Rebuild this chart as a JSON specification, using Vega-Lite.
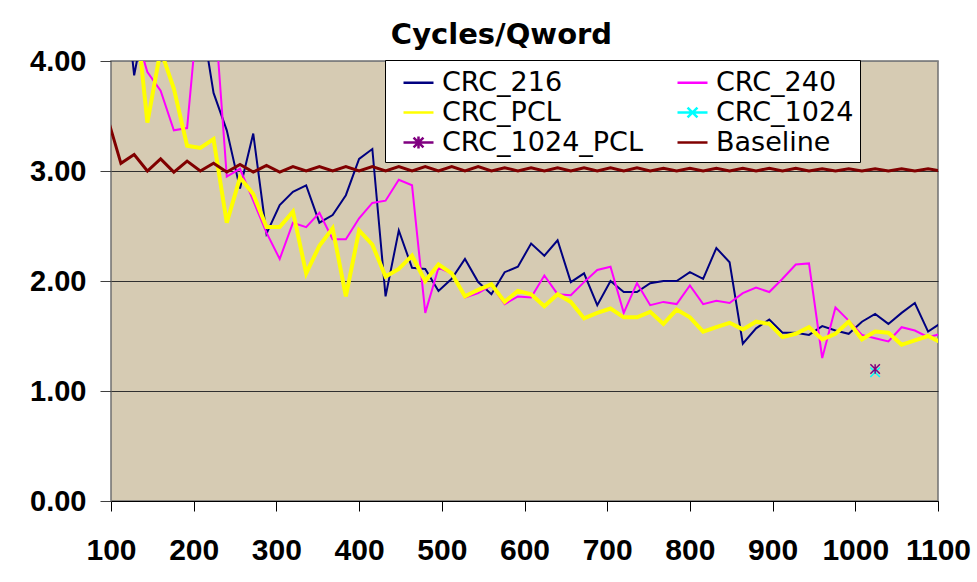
{
  "$schema": "https://vega.github.io/schema/vega-lite/v6.json",
  "width": 827,
  "height": 440,
  "autosize": {"type": "none"},
  "padding": {"left": 111, "top": 61, "right": 39, "bottom": 81},
  "background": "white",
  "title": {"text": "Cycles/Qword", "font": "DejaVu Sans", "fontSize": 29, "fontWeight": "bold", "color": "black", "anchor": "middle", "dx": -23, "dy": 40, "offset": 14, "baseline": "alphabetic"},
  "datasets": {
    "lines": [
      {"s":"CRC_216","x":96,"y":5.0},{"s":"CRC_216","x":112,"y":5.0},{"s":"CRC_216","x":128,"y":3.87},{"s":"CRC_216","x":144,"y":4.5},{"s":"CRC_216","x":160,"y":5.0},{"s":"CRC_216","x":176,"y":5.0},{"s":"CRC_216","x":192,"y":5.0},{"s":"CRC_216","x":208,"y":4.46},{"s":"CRC_216","x":224,"y":3.71},{"s":"CRC_216","x":240,"y":3.37},{"s":"CRC_216","x":256,"y":2.84},{"s":"CRC_216","x":272,"y":3.34},{"s":"CRC_216","x":288,"y":2.43},{"s":"CRC_216","x":304,"y":2.69},{"s":"CRC_216","x":320,"y":2.81},{"s":"CRC_216","x":336,"y":2.87},{"s":"CRC_216","x":352,"y":2.53},{"s":"CRC_216","x":368,"y":2.6},{"s":"CRC_216","x":384,"y":2.78},{"s":"CRC_216","x":400,"y":3.11},{"s":"CRC_216","x":416,"y":3.2},{"s":"CRC_216","x":432,"y":1.86},{"s":"CRC_216","x":448,"y":2.46},{"s":"CRC_216","x":464,"y":2.12},{"s":"CRC_216","x":480,"y":2.11},{"s":"CRC_216","x":496,"y":1.91},{"s":"CRC_216","x":512,"y":2.02},{"s":"CRC_216","x":528,"y":2.2},{"s":"CRC_216","x":544,"y":1.99},{"s":"CRC_216","x":560,"y":1.88},{"s":"CRC_216","x":576,"y":2.08},{"s":"CRC_216","x":592,"y":2.13},{"s":"CRC_216","x":608,"y":2.34},{"s":"CRC_216","x":624,"y":2.23},{"s":"CRC_216","x":640,"y":2.37},{"s":"CRC_216","x":656,"y":1.99},{"s":"CRC_216","x":672,"y":2.07},{"s":"CRC_216","x":688,"y":1.78},{"s":"CRC_216","x":704,"y":2.0},{"s":"CRC_216","x":720,"y":1.9},{"s":"CRC_216","x":736,"y":1.9},{"s":"CRC_216","x":752,"y":1.98},{"s":"CRC_216","x":768,"y":2.0},{"s":"CRC_216","x":784,"y":2.0},{"s":"CRC_216","x":800,"y":2.08},{"s":"CRC_216","x":816,"y":2.02},{"s":"CRC_216","x":832,"y":2.3},{"s":"CRC_216","x":848,"y":2.17},{"s":"CRC_216","x":864,"y":1.43},{"s":"CRC_216","x":880,"y":1.57},{"s":"CRC_216","x":896,"y":1.65},{"s":"CRC_216","x":912,"y":1.53},{"s":"CRC_216","x":928,"y":1.53},{"s":"CRC_216","x":944,"y":1.51},{"s":"CRC_216","x":960,"y":1.59},{"s":"CRC_216","x":976,"y":1.55},{"s":"CRC_216","x":992,"y":1.52},{"s":"CRC_216","x":1008,"y":1.63},{"s":"CRC_216","x":1024,"y":1.7},{"s":"CRC_216","x":1040,"y":1.61},{"s":"CRC_216","x":1056,"y":1.71},{"s":"CRC_216","x":1072,"y":1.8},{"s":"CRC_216","x":1088,"y":1.54},{"s":"CRC_216","x":1104,"y":1.62},

      {"s":"CRC_240","x":96,"y":5.0},{"s":"CRC_240","x":112,"y":4.6},{"s":"CRC_240","x":128,"y":4.3},{"s":"CRC_240","x":144,"y":3.9},{"s":"CRC_240","x":160,"y":3.73},{"s":"CRC_240","x":176,"y":3.37},{"s":"CRC_240","x":192,"y":3.39},{"s":"CRC_240","x":208,"y":4.7},{"s":"CRC_240","x":224,"y":4.6},{"s":"CRC_240","x":240,"y":2.95},{"s":"CRC_240","x":256,"y":3.02},{"s":"CRC_240","x":272,"y":2.73},{"s":"CRC_240","x":288,"y":2.44},{"s":"CRC_240","x":304,"y":2.2},{"s":"CRC_240","x":320,"y":2.53},{"s":"CRC_240","x":336,"y":2.49},{"s":"CRC_240","x":352,"y":2.62},{"s":"CRC_240","x":368,"y":2.38},{"s":"CRC_240","x":384,"y":2.38},{"s":"CRC_240","x":400,"y":2.57},{"s":"CRC_240","x":416,"y":2.71},{"s":"CRC_240","x":432,"y":2.73},{"s":"CRC_240","x":448,"y":2.92},{"s":"CRC_240","x":464,"y":2.87},{"s":"CRC_240","x":480,"y":1.71},{"s":"CRC_240","x":496,"y":2.12},{"s":"CRC_240","x":512,"y":2.07},{"s":"CRC_240","x":528,"y":1.85},{"s":"CRC_240","x":544,"y":1.89},{"s":"CRC_240","x":560,"y":1.96},{"s":"CRC_240","x":576,"y":1.79},{"s":"CRC_240","x":592,"y":1.86},{"s":"CRC_240","x":608,"y":1.85},{"s":"CRC_240","x":624,"y":2.05},{"s":"CRC_240","x":640,"y":1.88},{"s":"CRC_240","x":656,"y":1.87},{"s":"CRC_240","x":672,"y":1.99},{"s":"CRC_240","x":688,"y":2.1},{"s":"CRC_240","x":704,"y":2.13},{"s":"CRC_240","x":720,"y":1.71},{"s":"CRC_240","x":736,"y":1.98},{"s":"CRC_240","x":752,"y":1.78},{"s":"CRC_240","x":768,"y":1.81},{"s":"CRC_240","x":784,"y":1.79},{"s":"CRC_240","x":800,"y":1.96},{"s":"CRC_240","x":816,"y":1.79},{"s":"CRC_240","x":832,"y":1.82},{"s":"CRC_240","x":848,"y":1.8},{"s":"CRC_240","x":864,"y":1.89},{"s":"CRC_240","x":880,"y":1.94},{"s":"CRC_240","x":896,"y":1.9},{"s":"CRC_240","x":912,"y":2.02},{"s":"CRC_240","x":928,"y":2.15},{"s":"CRC_240","x":944,"y":2.16},{"s":"CRC_240","x":960,"y":1.3},{"s":"CRC_240","x":976,"y":1.76},{"s":"CRC_240","x":992,"y":1.64},{"s":"CRC_240","x":1008,"y":1.51},{"s":"CRC_240","x":1024,"y":1.48},{"s":"CRC_240","x":1040,"y":1.45},{"s":"CRC_240","x":1056,"y":1.58},{"s":"CRC_240","x":1072,"y":1.55},{"s":"CRC_240","x":1088,"y":1.49},{"s":"CRC_240","x":1104,"y":1.52},

      {"s":"CRC_PCL","x":96,"y":5.0},{"s":"CRC_PCL","x":112,"y":4.8},{"s":"CRC_PCL","x":128,"y":4.6},{"s":"CRC_PCL","x":144,"y":3.44},{"s":"CRC_PCL","x":160,"y":4.1},{"s":"CRC_PCL","x":176,"y":3.75},{"s":"CRC_PCL","x":192,"y":3.23},{"s":"CRC_PCL","x":208,"y":3.21},{"s":"CRC_PCL","x":224,"y":3.29},{"s":"CRC_PCL","x":240,"y":2.53},{"s":"CRC_PCL","x":256,"y":2.94},{"s":"CRC_PCL","x":272,"y":2.79},{"s":"CRC_PCL","x":288,"y":2.49},{"s":"CRC_PCL","x":304,"y":2.49},{"s":"CRC_PCL","x":320,"y":2.63},{"s":"CRC_PCL","x":336,"y":2.07},{"s":"CRC_PCL","x":352,"y":2.32},{"s":"CRC_PCL","x":368,"y":2.48},{"s":"CRC_PCL","x":384,"y":1.86},{"s":"CRC_PCL","x":400,"y":2.46},{"s":"CRC_PCL","x":416,"y":2.33},{"s":"CRC_PCL","x":432,"y":2.04},{"s":"CRC_PCL","x":448,"y":2.11},{"s":"CRC_PCL","x":464,"y":2.23},{"s":"CRC_PCL","x":480,"y":2.0},{"s":"CRC_PCL","x":496,"y":2.15},{"s":"CRC_PCL","x":512,"y":2.07},{"s":"CRC_PCL","x":528,"y":1.86},{"s":"CRC_PCL","x":544,"y":1.92},{"s":"CRC_PCL","x":560,"y":1.97},{"s":"CRC_PCL","x":576,"y":1.81},{"s":"CRC_PCL","x":592,"y":1.91},{"s":"CRC_PCL","x":608,"y":1.88},{"s":"CRC_PCL","x":624,"y":1.77},{"s":"CRC_PCL","x":640,"y":1.88},{"s":"CRC_PCL","x":656,"y":1.81},{"s":"CRC_PCL","x":672,"y":1.66},{"s":"CRC_PCL","x":688,"y":1.71},{"s":"CRC_PCL","x":704,"y":1.75},{"s":"CRC_PCL","x":720,"y":1.67},{"s":"CRC_PCL","x":736,"y":1.67},{"s":"CRC_PCL","x":752,"y":1.72},{"s":"CRC_PCL","x":768,"y":1.61},{"s":"CRC_PCL","x":784,"y":1.74},{"s":"CRC_PCL","x":800,"y":1.67},{"s":"CRC_PCL","x":816,"y":1.54},{"s":"CRC_PCL","x":832,"y":1.58},{"s":"CRC_PCL","x":848,"y":1.62},{"s":"CRC_PCL","x":864,"y":1.56},{"s":"CRC_PCL","x":880,"y":1.63},{"s":"CRC_PCL","x":896,"y":1.61},{"s":"CRC_PCL","x":912,"y":1.49},{"s":"CRC_PCL","x":928,"y":1.52},{"s":"CRC_PCL","x":944,"y":1.58},{"s":"CRC_PCL","x":960,"y":1.47},{"s":"CRC_PCL","x":976,"y":1.52},{"s":"CRC_PCL","x":992,"y":1.63},{"s":"CRC_PCL","x":1008,"y":1.47},{"s":"CRC_PCL","x":1024,"y":1.54},{"s":"CRC_PCL","x":1040,"y":1.53},{"s":"CRC_PCL","x":1056,"y":1.42},{"s":"CRC_PCL","x":1072,"y":1.46},{"s":"CRC_PCL","x":1088,"y":1.5},{"s":"CRC_PCL","x":1104,"y":1.44},

      {"s":"Baseline","x":96,"y":3.48},{"s":"Baseline","x":112,"y":3.07},{"s":"Baseline","x":128,"y":3.15},{"s":"Baseline","x":144,"y":3.0},{"s":"Baseline","x":160,"y":3.11},{"s":"Baseline","x":176,"y":2.99},{"s":"Baseline","x":192,"y":3.09},{"s":"Baseline","x":208,"y":3.0},{"s":"Baseline","x":224,"y":3.07},{"s":"Baseline","x":240,"y":2.99},{"s":"Baseline","x":256,"y":3.06},{"s":"Baseline","x":272,"y":2.99},{"s":"Baseline","x":288,"y":3.05},{"s":"Baseline","x":304,"y":2.99},{"s":"Baseline","x":320,"y":3.04},{"s":"Baseline","x":336,"y":3.0},{"s":"Baseline","x":352,"y":3.04},{"s":"Baseline","x":368,"y":3.0},{"s":"Baseline","x":384,"y":3.04},{"s":"Baseline","x":400,"y":3.0},{"s":"Baseline","x":416,"y":3.04},{"s":"Baseline","x":432,"y":3.0},{"s":"Baseline","x":448,"y":3.04},{"s":"Baseline","x":464,"y":3.0},{"s":"Baseline","x":480,"y":3.04},{"s":"Baseline","x":496,"y":3.0},{"s":"Baseline","x":512,"y":3.04},{"s":"Baseline","x":528,"y":3.0},{"s":"Baseline","x":544,"y":3.04},{"s":"Baseline","x":560,"y":3.0},{"s":"Baseline","x":576,"y":3.03},{"s":"Baseline","x":592,"y":3.0},{"s":"Baseline","x":608,"y":3.03},{"s":"Baseline","x":624,"y":3.0},{"s":"Baseline","x":640,"y":3.03},{"s":"Baseline","x":656,"y":3.0},{"s":"Baseline","x":672,"y":3.03},{"s":"Baseline","x":688,"y":3.0},{"s":"Baseline","x":704,"y":3.03},{"s":"Baseline","x":720,"y":3.0},{"s":"Baseline","x":736,"y":3.03},{"s":"Baseline","x":752,"y":3.0},{"s":"Baseline","x":768,"y":3.025},{"s":"Baseline","x":784,"y":3.0},{"s":"Baseline","x":800,"y":3.025},{"s":"Baseline","x":816,"y":3.0},{"s":"Baseline","x":832,"y":3.025},{"s":"Baseline","x":848,"y":3.0},{"s":"Baseline","x":864,"y":3.025},{"s":"Baseline","x":880,"y":3.0},{"s":"Baseline","x":896,"y":3.025},{"s":"Baseline","x":912,"y":3.0},{"s":"Baseline","x":928,"y":3.025},{"s":"Baseline","x":944,"y":3.0},{"s":"Baseline","x":960,"y":3.02},{"s":"Baseline","x":976,"y":3.0},{"s":"Baseline","x":992,"y":3.02},{"s":"Baseline","x":1008,"y":3.0},{"s":"Baseline","x":1024,"y":3.02},{"s":"Baseline","x":1040,"y":3.0},{"s":"Baseline","x":1056,"y":3.02},{"s":"Baseline","x":1072,"y":3.0},{"s":"Baseline","x":1088,"y":3.02},{"s":"Baseline","x":1104,"y":3.0}
    ],
    "pts": [
      {"s":"CRC_1024","x":1024,"y":1.17},
      {"s":"CRC_1024_PCL","x":1024,"y":1.2}
    ]
  },
  "encoding": {
    "x": {"field": "x", "type": "quantitative",
      "scale": {"domain": [100, 1100], "nice": false, "zero": false},
      "axis": {"values": [100,200,300,400,500,600,700,800,900,1000,1100], "format": "d", "title": null, "grid": false,
        "labelFont": "Liberation Sans", "labelFontSize": 30, "labelFontWeight": "bold", "labelColor": "black",
        "tickSize": 10, "tickColor": "black", "domainColor": "black", "domainWidth": 1,
        "labelPadding": 24, "labelOverlap": false, "labelFlush": false, "labelBound": false}},
    "y": {"field": "y", "type": "quantitative",
      "scale": {"domain": [0, 4], "nice": false, "zero": true},
      "axis": {"values": [0,1,2,3,4], "format": ".2f", "title": null, "domain": false,
        "labelFont": "Liberation Sans", "labelFontSize": 29, "labelFontWeight": "bold", "labelColor": "black",
        "tickSize": 11, "tickColor": "#404040", "labelPadding": 14,
        "grid": true, "gridWidth": 1,
        "gridColor": {"condition": {"test": "datum.value == 4", "value": "#808080"}, "value": "#303030"}}},
    "color": {"field": "s", "type": "nominal",
      "scale": {"domain": ["CRC_216","CRC_240","CRC_PCL","CRC_1024","CRC_1024_PCL","Baseline"],
                "range": ["#000080","#FF00FF","#FFFF00","#00FFFF","#800080","#800000"]},
      "legend": null}
  },
  "layer": [
    {
      "data": {"name": "lines"},
      "transform": [{"filter": {"field": "s", "oneOf": ["CRC_216", "CRC_240"]}}],
      "mark": {"type": "line", "strokeWidth": 2, "clip": true},
      "encoding": {
        "color": {"field": "s", "type": "nominal",
          "legend": {"title": null, "orient": "none", "legendX": 274, "legendY": -1, "columns": 2, "direction": "horizontal",
            "columnPadding": 21, "rowPadding": 0, "padding": 6, "labelLimit": 400,
            "strokeColor": "black", "fillColor": "white",
            "labelFont": "DejaVu Sans", "labelFontSize": 27, "labelColor": "black", "labelOffset": 7,
            "symbolType": "stroke", "symbolSize": 900, "symbolStrokeWidth": 2.5, "symbolOffset": 11,
            "encode": {"symbols": {"update": {"shape": {"signal": "datum.value === 'CRC_1024' ? 'M-1,0L1,0M-0.33,-0.33L0.33,0.33M-0.33,0.33L0.33,-0.33' : datum.value === 'CRC_1024_PCL' ? 'M-1,0L1,0M-0.33,-0.33L0.33,0.33M-0.33,0.33L0.33,-0.33M0,-0.4L0,0.4' : 'stroke'"}}}}}}
      }
    },
    {
      "data": {"name": "lines"},
      "transform": [{"filter": {"field": "s", "equal": "CRC_PCL"}}],
      "mark": {"type": "line", "strokeWidth": 4, "clip": true}
    },
    {
      "data": {"name": "lines"},
      "transform": [{"filter": {"field": "s", "equal": "Baseline"}}],
      "mark": {"type": "line", "strokeWidth": 3, "clip": true}
    },
    {
      "data": {"name": "pts"},
      "mark": {"type": "point", "filled": false, "strokeWidth": 1.5, "size": 90, "opacity": 1},
      "encoding": {
        "shape": {"field": "s", "type": "nominal", "legend": null,
          "scale": {"domain": ["CRC_1024", "CRC_1024_PCL"],
                    "range": ["M-1,-1L1,1M-1,1L1,-1", "M-1,-1L1,1M-1,1L1,-1M0,-1L0,1"]}}
      }
    }
  ],
  "config": {
    "view": {"fill": "#d6cbb3", "stroke": "#707070", "strokeWidth": 1.5},
    "font": "Liberation Sans"
  }
}
